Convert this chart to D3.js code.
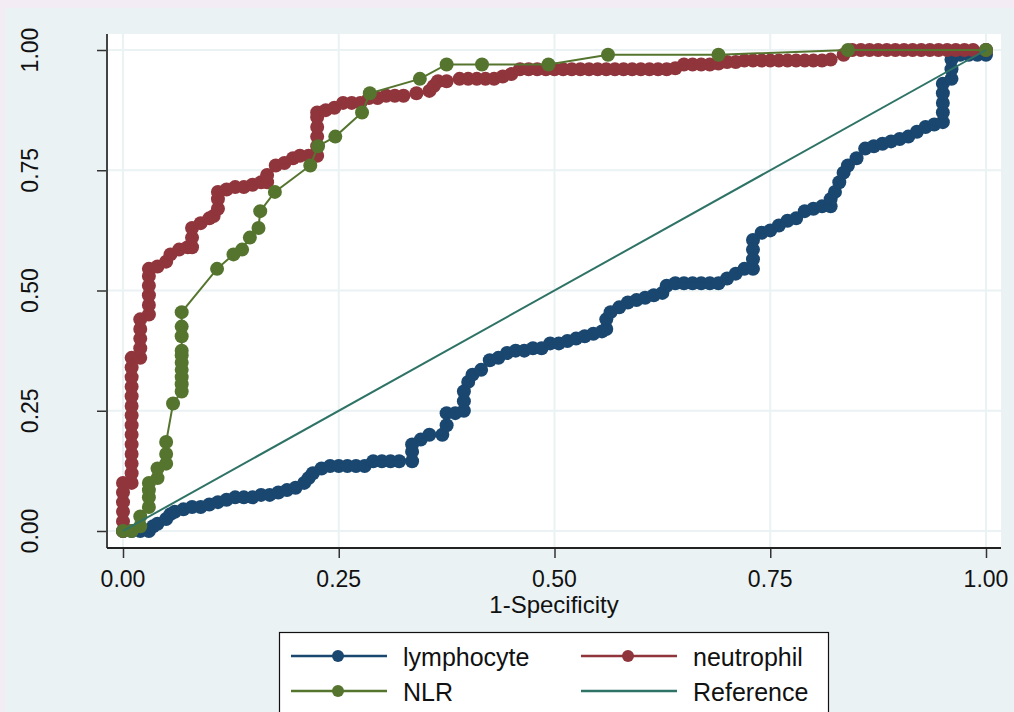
<!DOCTYPE html>
<html>
<head>
<meta charset="utf-8">
<script src="https://cdn.jsdelivr.net/npm/d3@7"></script>
<style>
  html, body { margin: 0; padding: 0; background: #f3ecf4; }
  svg { display: block; font-family: 'Liberation Sans', Arial, sans-serif; }
</style>
</head>
<body>
<div id="chart"></div>
<script>
// ROC points, [1-specificity, sensitivity]
const lymphocyte = [
  [0, 0], [0.01, 0], [0.02, 0], [0.03, 0], [0.035, 0.01], [0.04, 0.015], [0.05, 0.025], [0.055, 0.035],
  [0.06, 0.04], [0.07, 0.045], [0.08, 0.05], [0.09, 0.05], [0.1, 0.055], [0.11, 0.06], [0.12, 0.065],
  [0.13, 0.07], [0.14, 0.07], [0.15, 0.07], [0.16, 0.075], [0.17, 0.075], [0.18, 0.08], [0.19, 0.085],
  [0.2, 0.09], [0.21, 0.1], [0.215, 0.11], [0.22, 0.12], [0.23, 0.13], [0.24, 0.135], [0.25, 0.135],
  [0.26, 0.135], [0.27, 0.135], [0.28, 0.135], [0.29, 0.145], [0.3, 0.145], [0.31, 0.145], [0.32, 0.145],
  [0.335, 0.145], [0.335, 0.165], [0.335, 0.18], [0.345, 0.19], [0.355, 0.2], [0.37, 0.2], [0.375, 0.22],
  [0.375, 0.245], [0.385, 0.245], [0.395, 0.25], [0.395, 0.27], [0.395, 0.29], [0.4, 0.31], [0.405, 0.325],
  [0.415, 0.335], [0.425, 0.355], [0.435, 0.36], [0.445, 0.37], [0.455, 0.375], [0.465, 0.375],
  [0.475, 0.38], [0.485, 0.38], [0.495, 0.39], [0.505, 0.39], [0.515, 0.395], [0.525, 0.4], [0.535, 0.405],
  [0.545, 0.41], [0.555, 0.415], [0.56, 0.42], [0.56, 0.44], [0.565, 0.455], [0.575, 0.465], [0.585, 0.475],
  [0.595, 0.48], [0.605, 0.485], [0.615, 0.49], [0.625, 0.495], [0.63, 0.51], [0.64, 0.515], [0.65, 0.515],
  [0.66, 0.515], [0.67, 0.515], [0.68, 0.515], [0.69, 0.515], [0.7, 0.525], [0.71, 0.535], [0.72, 0.545],
  [0.73, 0.545], [0.73, 0.565], [0.73, 0.585], [0.73, 0.605], [0.74, 0.62], [0.75, 0.625], [0.76, 0.635],
  [0.77, 0.645], [0.78, 0.65], [0.79, 0.665], [0.8, 0.67], [0.81, 0.675], [0.82, 0.675], [0.82, 0.69],
  [0.825, 0.705], [0.83, 0.725], [0.835, 0.745], [0.84, 0.76], [0.85, 0.775], [0.86, 0.795], [0.87, 0.8],
  [0.88, 0.805], [0.89, 0.81], [0.9, 0.815], [0.91, 0.82], [0.92, 0.83], [0.93, 0.84], [0.94, 0.845],
  [0.95, 0.85], [0.95, 0.87], [0.95, 0.89], [0.95, 0.91], [0.95, 0.93], [0.96, 0.94], [0.96, 0.96],
  [0.96, 0.98], [0.97, 0.99], [0.98, 0.99], [0.99, 0.99], [1, 0.99], [1, 1]
]

const neutrophil = [
  [0, 0], [0, 0.02], [0, 0.04], [0, 0.06], [0, 0.08], [0, 0.1], [0.01, 0.1], [0.01, 0.12], [0.01, 0.14],
  [0.01, 0.16], [0.01, 0.18], [0.01, 0.2], [0.01, 0.22], [0.01, 0.24], [0.01, 0.26], [0.01, 0.28],
  [0.01, 0.3], [0.01, 0.32], [0.01, 0.34], [0.01, 0.36], [0.02, 0.36], [0.02, 0.38], [0.02, 0.4],
  [0.02, 0.42], [0.02, 0.44], [0.03, 0.45], [0.03, 0.47], [0.03, 0.49], [0.03, 0.51], [0.03, 0.53],
  [0.03, 0.545], [0.04, 0.55], [0.05, 0.56], [0.055, 0.575], [0.065, 0.585], [0.075, 0.59], [0.08, 0.59],
  [0.08, 0.61], [0.08, 0.63], [0.09, 0.64], [0.1, 0.65], [0.105, 0.655], [0.11, 0.67], [0.11, 0.69],
  [0.11, 0.705], [0.12, 0.71], [0.13, 0.715], [0.14, 0.715], [0.15, 0.72], [0.16, 0.725], [0.167, 0.725],
  [0.167, 0.74], [0.177, 0.76], [0.187, 0.765], [0.197, 0.775], [0.205, 0.78], [0.215, 0.78], [0.225, 0.78],
  [0.225, 0.8], [0.225, 0.82], [0.225, 0.84], [0.225, 0.86], [0.225, 0.87], [0.235, 0.875], [0.245, 0.88],
  [0.255, 0.89], [0.265, 0.89], [0.275, 0.89], [0.285, 0.9], [0.295, 0.9], [0.305, 0.905], [0.315, 0.905],
  [0.325, 0.905], [0.34, 0.91], [0.355, 0.915], [0.36, 0.925], [0.365, 0.935], [0.375, 0.935], [0.39, 0.94],
  [0.4, 0.94], [0.41, 0.94], [0.42, 0.94], [0.43, 0.94], [0.44, 0.945], [0.45, 0.95], [0.46, 0.96],
  [0.47, 0.96], [0.48, 0.96], [0.49, 0.96], [0.5, 0.96], [0.51, 0.96], [0.52, 0.96], [0.53, 0.96],
  [0.54, 0.96], [0.55, 0.96], [0.56, 0.96], [0.57, 0.96], [0.58, 0.96], [0.59, 0.96], [0.6, 0.96],
  [0.61, 0.96], [0.62, 0.96], [0.63, 0.96], [0.64, 0.962], [0.65, 0.97], [0.66, 0.97], [0.67, 0.97],
  [0.68, 0.97], [0.69, 0.972], [0.7, 0.975], [0.71, 0.975], [0.72, 0.978], [0.73, 0.978], [0.74, 0.978],
  [0.75, 0.978], [0.76, 0.978], [0.77, 0.978], [0.78, 0.978], [0.79, 0.978], [0.8, 0.978], [0.81, 0.978],
  [0.82, 0.98], [0.835, 0.99], [0.845, 1], [0.855, 1], [0.865, 1], [0.875, 1], [0.885, 1], [0.895, 1],
  [0.905, 1], [0.915, 1], [0.925, 1], [0.935, 1], [0.945, 1], [0.955, 1], [0.965, 1], [0.975, 1],
  [0.985, 1], [1, 1]
]

const nlr = [
  [0, 0], [0.01, 0], [0.02, 0.01], [0.02, 0.03], [0.03, 0.05], [0.03, 0.07], [0.03, 0.085], [0.03, 0.1],
  [0.04, 0.11], [0.04, 0.13], [0.05, 0.14], [0.05, 0.16], [0.05, 0.185], [0.058, 0.265], [0.068, 0.29],
  [0.068, 0.305], [0.068, 0.32], [0.068, 0.335], [0.068, 0.35], [0.068, 0.365], [0.068, 0.375],
  [0.068, 0.405], [0.068, 0.425], [0.068, 0.455], [0.109, 0.545], [0.128, 0.575], [0.138, 0.585],
  [0.147, 0.61], [0.157, 0.63], [0.159, 0.665], [0.176, 0.705], [0.217, 0.76], [0.226, 0.8],
  [0.246, 0.82], [0.277, 0.87], [0.286, 0.91], [0.344, 0.94], [0.375, 0.97], [0.416, 0.97],
  [0.493, 0.97], [0.562, 0.99], [0.69, 0.99], [0.84, 1], [1, 1]
]

const reference = [[0, 0], [1, 1]]

const ticks = [0, 0.25, 0.5, 0.75, 1]
const tickLabels = ['0.00', '0.25', '0.50', '0.75', '1.00']

const series = [
  { name: 'lymphocyte', data: lymphocyte, color: '#1a476f', marker: true },
  { name: 'neutrophil', data: neutrophil, color: '#90353b', marker: true },
  { name: 'NLR', data: nlr, color: '#55752f', marker: true },
  { name: 'Reference', data: reference, color: '#2f7367', marker: false }
]

const width = 1014
const height = 712
const plot = { left: 107, right: 1001, top: 34, bottom: 548 }

const x = d3.scaleLinear().domain([0, 1]).range([123, 986])
const y = d3.scaleLinear().domain([0, 1]).range([531, 50])

const svg = d3.select('#chart').append('svg')
  .attr('width', width)
  .attr('height', height)

// graph region
svg.append('rect')
  .attr('x', 5).attr('y', 8)
  .attr('width', width - 5).attr('height', height - 8)
  .attr('fill', '#eaf2f3')

svg.append('rect')
  .attr('x', plot.left).attr('y', plot.top)
  .attr('width', plot.right - plot.left).attr('height', plot.bottom - plot.top)
  .attr('fill', '#ffffff')

// grid
const grid = svg.append('g')
grid.selectAll('.gy').data(ticks).enter().append('line')
  .attr('x1', plot.left).attr('x2', plot.right)
  .attr('y1', d => y(d)).attr('y2', d => y(d))
  .attr('stroke', '#eaf2f3').attr('stroke-width', 2)
grid.selectAll('.gx').data(ticks).enter().append('line')
  .attr('y1', plot.top).attr('y2', plot.bottom)
  .attr('x1', d => x(d)).attr('x2', d => x(d))
  .attr('stroke', '#eaf2f3').attr('stroke-width', 2)

// axes
const yAxis = svg.append('g')
  .attr('transform', `translate(${plot.left},0)`)
  .call(d3.axisLeft(y).tickValues(ticks).tickSize(10).tickFormat(''))
yAxis.select('.domain').remove()
yAxis.selectAll('line').attr('stroke', '#333').attr('stroke-width', 1.5)

const xAxis = svg.append('g')
  .attr('transform', `translate(0,${plot.bottom})`)
  .call(d3.axisBottom(x).tickValues(ticks).tickSize(10).tickFormat(''))
xAxis.select('.domain').remove()
xAxis.selectAll('line').attr('stroke', '#333').attr('stroke-width', 1.5)

svg.append('line')
  .attr('x1', plot.left).attr('x2', plot.left)
  .attr('y1', plot.top).attr('y2', plot.bottom)
  .attr('stroke', '#444').attr('stroke-width', 2)
svg.append('line')
  .attr('x1', plot.left).attr('x2', plot.right)
  .attr('y1', plot.bottom).attr('y2', plot.bottom)
  .attr('stroke', '#222').attr('stroke-width', 2)

svg.selectAll('.ylab').data(ticks).enter().append('text')
  .attr('transform', d => `translate(38,${y(d)}) rotate(-90)`)
  .attr('text-anchor', 'middle')
  .attr('font-size', 23)
  .attr('fill', '#111')
  .text((d, i) => tickLabels[i])

svg.selectAll('.xlab').data(ticks).enter().append('text')
  .attr('x', d => x(d)).attr('y', 587)
  .attr('text-anchor', 'middle')
  .attr('font-size', 23)
  .attr('fill', '#111')
  .text((d, i) => tickLabels[i])

svg.append('text')
  .attr('x', 554).attr('y', 613)
  .attr('text-anchor', 'middle')
  .attr('font-size', 24)
  .attr('fill', '#111')
  .text('1-Specificity')

// curves
const line = d3.line().x(d => x(d[0])).y(d => y(d[1]))
const marks = svg.append('g')
series.forEach(s => {
  const g = marks.append('g')
  if (s.marker) {
    g.selectAll('circle').data(s.data).enter().append('circle')
      .attr('cx', d => x(d[0]))
      .attr('cy', d => y(d[1]))
      .attr('r', 7)
      .attr('fill', s.color)
  }
  g.append('path')
    .datum(s.data)
    .attr('d', line)
    .attr('fill', 'none')
    .attr('stroke', s.color)
    .attr('stroke-width', 2)
})

// legend
const legend = svg.append('g')
legend.append('rect')
  .attr('x', 279.5).attr('y', 632.5)
  .attr('width', 549).attr('height', 100)
  .attr('fill', '#ffffff')
  .attr('stroke', '#111').attr('stroke-width', 1.2)

const cols = [291, 581]
const rows = [656, 691]
series.forEach((s, i) => {
  const lx = cols[i % 2]
  const ly = rows[Math.floor(i / 2)]
  const item = legend.append('g').attr('transform', `translate(${lx},${ly})`)
  item.append('line')
    .attr('x1', 0).attr('x2', 96)
    .attr('stroke', s.color).attr('stroke-width', 2.5)
  if (s.marker) {
    item.append('circle').attr('cx', 47).attr('r', 6).attr('fill', s.color)
  }
  item.append('text')
    .attr('x', 112).attr('y', 10)
    .attr('font-size', 25)
    .attr('fill', '#111')
    .text(s.name)
})
</script>
</body>
</html>
